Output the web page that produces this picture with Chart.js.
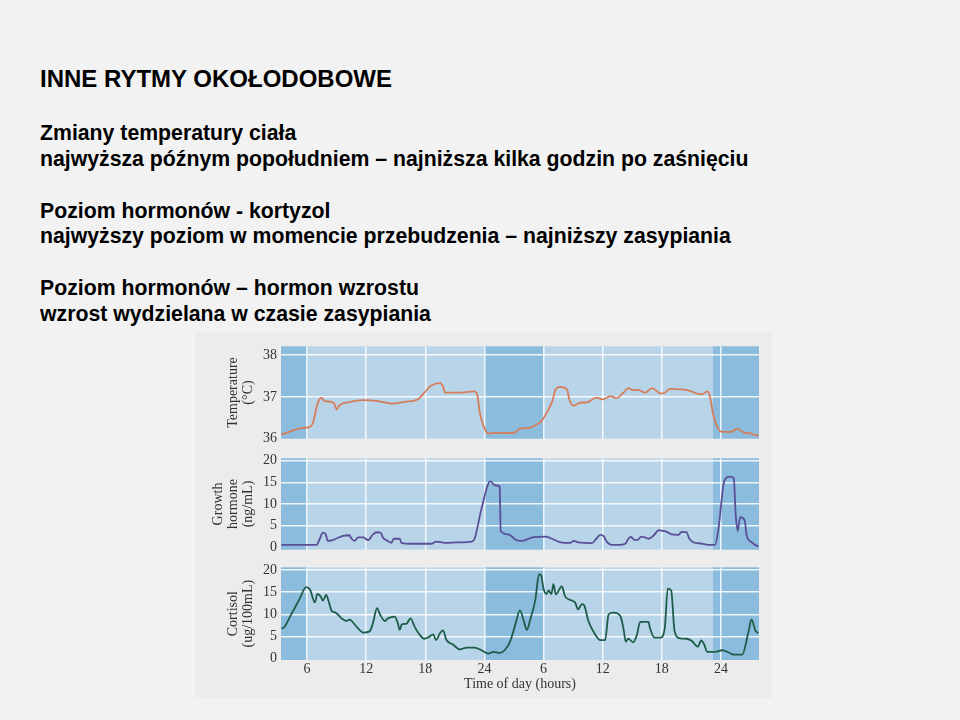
<!DOCTYPE html>
<html lang="pl">

<head>
    <meta charset="UTF-8">
    <title>Inne rytmy okołodobowe</title>
    <script src="https://cdn.jsdelivr.net/npm/chart.js"></script>
    <style>
        body {
            margin: 0;
            width: 960px;
            height: 720px;
            background: #f2f2f2;
            position: relative;
            overflow: hidden;
            font-family: "Liberation Sans", Arial, sans-serif;
            font-weight: bold;
            color: #000;
        }

        h1 {
            position: absolute;
            left: 40px;
            top: 65px;
            margin: 0;
            font-size: 24px;
            line-height: 28px;
            font-weight: bold;
        }

        .tekst {
            position: absolute;
            left: 40px;
            top: 121px;
            font-size: 21.25px;
            line-height: 25.85px;
            white-space: nowrap;
        }

        .rycina {
            position: absolute;
            left: 195px;
            top: 332px;
            width: 577px;
            height: 366px;
            background: #ececec;
        }

        canvas {
            position: absolute;
            left: 195px;
        }
    </style>
</head>

<body>
    <h1>INNE RYTMY OKOŁODOBOWE</h1>
    <div class="tekst">
        Zmiany temperatury ciała<br>
        najwyższa późnym popołudniem – najniższa kilka godzin po zaśnięciu<br>
        <br>
        Poziom hormonów - kortyzol<br>
        najwyższy poziom w momencie przebudzenia – najniższy zasypiania<br>
        <br>
        Poziom hormonów – hormon wzrostu<br>
        wzrost wydzielana w czasie zasypiania
    </div>
    <div class="rycina"></div>
    <canvas id="temp" width="570" height="117" style="top:334px"></canvas>
    <canvas id="gh" width="570" height="116" style="top:446px"></canvas>
    <canvas id="cort" width="570" height="142" style="top:555px"></canvas>

    <script>
        // czas liczony w godzinach od północy pierwszego dnia
        const xMin = 3.36;
        const xMax = 51.86;
        const xTicks = [6, 12, 18, 24, 30, 36, 42, 48];
        const xTickLabels = ['6', '12', '18', '24', '6', '12', '18', '24'];
        const sleepPeriods = [[3.0, 6.0], [24.0, 30.0], [47.2, 52.0]];

        const tempHours = [3.4, 4.4, 5.4, 6.3, 6.6, 7.05, 7.45, 7.8, 8.5, 8.8, 9.0, 9.3, 10.2, 11.7, 13.2, 14.55, 15.9, 17.3, 17.9, 18.6, 19.5, 19.8, 20.0, 21.3, 23.0, 23.3, 23.5, 23.85, 24.4, 25.0, 26.05, 27.05, 27.6, 28.6, 29.3, 29.8, 30.5, 30.9, 31.2, 31.7, 32.4, 32.6, 33.05, 33.7, 34.4, 35.4, 36.0, 36.8, 37.4, 38.1, 38.6, 39.1, 39.6, 40.3, 41.0, 41.9, 42.3, 42.85, 43.7, 44.5, 45.7, 46.1, 46.6, 46.8, 47.25, 47.75, 48.1, 49.1, 49.6, 50.5, 50.8, 51.3, 51.8];
        const tempValues = [36.10, 36.18, 36.25, 36.28, 36.38, 36.82, 36.98, 36.90, 36.88, 36.82, 36.70, 36.80, 36.87, 36.92, 36.90, 36.84, 36.88, 36.95, 37.10, 37.27, 37.33, 37.25, 37.10, 37.10, 37.13, 37.02, 36.66, 36.34, 36.12, 36.14, 36.13, 36.14, 36.24, 36.26, 36.34, 36.42, 36.70, 36.90, 37.17, 37.24, 37.17, 36.95, 36.79, 36.86, 36.87, 36.98, 36.94, 37.02, 36.97, 37.10, 37.21, 37.16, 37.17, 37.10, 37.21, 37.08, 37.10, 37.19, 37.18, 37.17, 37.07, 37.06, 37.13, 37.08, 36.54, 36.22, 36.16, 36.16, 36.24, 36.13, 36.14, 36.09, 36.08];
        const tempTicks = [36, 37, 38];

        const ghHours = [3.4, 6.95, 7.3, 7.6, 7.9, 8.1, 8.6, 9.65, 10.3, 10.5, 10.8, 11.2, 11.7, 12.2, 12.7, 13.1, 13.5, 13.7, 14.2, 14.55, 14.8, 15.4, 15.6, 16.6, 17.9, 18.6, 19.1, 20.0, 21.3, 22.7, 23.0, 23.7, 24.6, 25.0, 25.4, 25.55, 25.65, 26.4, 26.9, 27.2, 27.8, 28.5, 29.0, 30.2, 30.85, 31.5, 32.2, 32.7, 33.05, 33.55, 34.9, 35.35, 35.75, 36.1, 36.4, 36.9, 37.6, 38.3, 38.6, 38.9, 39.2, 39.6, 39.9, 40.3, 40.65, 41.15, 41.7, 42.1, 42.5, 43.0, 43.7, 44.0, 44.5, 44.8, 45.2, 46.05, 46.7, 47.4, 47.75, 48.35, 48.9, 49.3, 49.5, 49.7, 49.95, 50.4, 50.6, 51.1, 51.8];
        const ghValues = [0.6, 0.6, 2.0, 3.4, 3.0, 1.5, 1.7, 2.65, 2.8, 2.1, 1.5, 2.3, 2.3, 1.7, 3.0, 3.5, 3.3, 2.3, 1.5, 1.05, 2.0, 2.0, 1.0, 0.85, 0.85, 0.85, 1.35, 1.05, 1.15, 1.35, 2.0, 8.9, 15.2, 14.4, 14.2, 13.9, 3.8, 3.0, 2.3, 1.7, 1.5, 2.0, 2.35, 2.5, 2.0, 1.35, 1.05, 1.05, 1.5, 1.15, 1.0, 2.0, 2.9, 2.6, 1.35, 0.6, 0.6, 0.85, 2.0, 2.4, 1.75, 1.8, 2.5, 2.3, 2.0, 2.7, 4.0, 3.8, 3.6, 3.0, 2.9, 3.6, 3.5, 2.0, 1.2, 0.9, 0.6, 0.6, 4.4, 15.4, 16.3, 15.9, 7.4, 3.8, 7.0, 6.3, 2.9, 1.2, 0.2];
        const ghTicks = [0, 5, 10, 15, 20];

        const cortHours = [3.4, 3.7, 4.4, 5.25, 5.9, 6.3, 6.8, 7.05, 7.4, 7.6, 7.95, 8.2, 8.5, 8.9, 9.5, 10.0, 10.3, 11.0, 11.7, 12.35, 12.7, 13.1, 13.4, 13.9, 14.2, 14.9, 15.2, 15.4, 15.6, 16.1, 16.5, 16.9, 17.3, 17.9, 18.3, 18.8, 19.1, 19.5, 19.8, 20.15, 20.8, 21.5, 22.2, 23.0, 23.7, 24.4, 24.9, 25.55, 26.05, 26.6, 27.15, 27.6, 28.0, 28.3, 28.65, 29.15, 29.55, 29.75, 30.0, 30.3, 30.5, 30.8, 31.0, 31.25, 31.85, 32.2, 32.9, 33.2, 33.5, 33.9, 34.15, 34.55, 35.25, 35.75, 36.25, 36.6, 37.1, 37.8, 38.1, 38.35, 38.6, 39.1, 39.45, 39.8, 40.65, 40.8, 41.25, 41.85, 42.3, 42.6, 42.95, 43.3, 43.85, 44.5, 45.05, 45.4, 45.65, 46.0, 46.3, 46.6, 47.4, 48.1, 48.8, 49.3, 50.15, 50.8, 51.1, 51.5, 51.8];
        const cortValues = [6.8, 7.15, 10.0, 13.5, 16.15, 15.6, 12.7, 14.6, 14.0, 13.1, 14.4, 12.9, 10.8, 10.4, 9.1, 8.5, 8.8, 7.3, 5.9, 6.15, 8.1, 11.4, 10.0, 8.5, 9.1, 9.5, 8.1, 6.5, 7.7, 7.9, 9.1, 7.3, 5.8, 4.5, 4.8, 5.5, 4.2, 5.8, 6.4, 4.2, 3.2, 2.1, 2.5, 2.5, 1.9, 1.15, 1.55, 1.3, 1.9, 3.85, 7.8, 10.9, 8.5, 6.5, 8.85, 13.1, 19.1, 18.85, 15.8, 14.6, 15.4, 14.6, 16.8, 14.5, 16.3, 14.0, 13.1, 12.7, 11.15, 12.3, 11.9, 8.5, 5.4, 4.2, 4.2, 10.0, 10.4, 9.6, 6.9, 3.85, 4.5, 3.7, 5.2, 8.3, 8.3, 6.9, 4.75, 4.75, 6.9, 15.8, 15.4, 6.15, 4.6, 4.5, 4.0, 3.1, 2.7, 4.1, 3.2, 1.55, 1.55, 1.9, 1.4, 0.9, 0.9, 6.15, 8.85, 6.3, 5.8];
        const cortTicks = [0, 5, 10, 15, 20];

        const wakeColor = '#b8d4e8';
        const sleepColor = '#8bbbdd';
        const gridColor = 'rgba(255,255,255,0.85)';
        const serif = "'Liberation Serif', 'Times New Roman', serif";

        // tło: jasne (czuwanie) i ciemniejsze pasy snu
        const sleepShade = {
            id: 'sleepShade',
            beforeDraw(chart) {
                const { ctx, chartArea: a, scales: { x } } = chart;
                ctx.save();
                ctx.fillStyle = wakeColor;
                ctx.fillRect(a.left, a.top, a.right - a.left, a.bottom - a.top);
                ctx.fillStyle = sleepColor;
                sleepPeriods.forEach(([s, e]) => {
                    const x0 = Math.max(a.left, x.getPixelForValue(s));
                    const x1 = Math.min(a.right, x.getPixelForValue(e));
                    ctx.fillRect(x0, a.top, x1 - x0, a.bottom - a.top);
                });
                ctx.restore();
            }
        };

        function makePanel(id, hours, values, color, yMin, yMax, yTicks, yTitle, titlePad, showX) {
            return new Chart(document.getElementById(id), {
                type: 'line',
                data: {
                    datasets: [{
                        data: hours.map((h, i) => ({ x: h, y: values[i] })),
                        borderColor: color,
                        borderWidth: 1.8,
                        pointRadius: 0,
                        cubicInterpolationMode: 'monotone',
                        fill: false
                    }]
                },
                options: {
                    responsive: false,
                    animation: false,
                    layout: { padding: { top: 10, right: 6, bottom: showX ? 0 : 4, left: 0 } },
                    plugins: { legend: { display: false }, tooltip: { enabled: false } },
                    scales: {
                        x: {
                            type: 'linear',
                            min: xMin,
                            max: xMax,
                            afterBuildTicks: s => { s.ticks = xTicks.map(v => ({ value: v })); },
                            afterFit: s => { s.height = showX ? 37 : 0; },
                            border: { display: false },
                            grid: { color: gridColor, lineWidth: 1.5, drawTicks: false },
                            ticks: {
                                display: showX,
                                padding: 1,
                                color: '#333',
                                font: { family: serif, size: 14 },
                                callback: (v, i) => xTickLabels[i]
                            },
                            title: {
                                display: showX,
                                text: 'Time of day (hours)',
                                color: '#333',
                                font: { family: serif, size: 14 },
                                padding: { top: 0, bottom: 4 }
                            }
                        },
                        y: {
                            min: yMin,
                            max: yMax,
                            afterBuildTicks: s => { s.ticks = yTicks.map(v => ({ value: v })); },
                            afterFit: s => { s.width = 86; },
                            border: { display: false },
                            grid: {
                                color: c => (c.tick && c.tick.value === yTicks[0]) ? 'transparent' : gridColor,
                                lineWidth: 1.5,
                                drawTicks: false
                            },
                            ticks: {
                                padding: 4,
                                color: '#333',
                                font: { family: serif, size: 14 }
                            },
                            title: {
                                display: true,
                                text: yTitle,
                                color: '#333',
                                font: { family: serif, size: 14, lineHeight: 1.07 },
                                padding: { top: titlePad, bottom: 0 }
                            }
                        }
                    }
                },
                plugins: [sleepShade]
            });
        }

        makePanel('temp', tempHours, tempValues, '#d67d5a', 36, 38.21, tempTicks,
            ['Temperature', '(°C)'], 30.5, false);
        makePanel('gh', ghHours, ghValues, '#5a4f98', -0.5, 20.5, ghTicks,
            ['Growth', 'hormone', '(ng/mL)'], 15.5, false);
        makePanel('cort', cortHours, cortValues, '#1e5c4a', -0.3, 20.6, cortTicks,
            ['Cortisol', '(ug/100mL)'], 30.5, true);
    </script>

</body>

</html>
